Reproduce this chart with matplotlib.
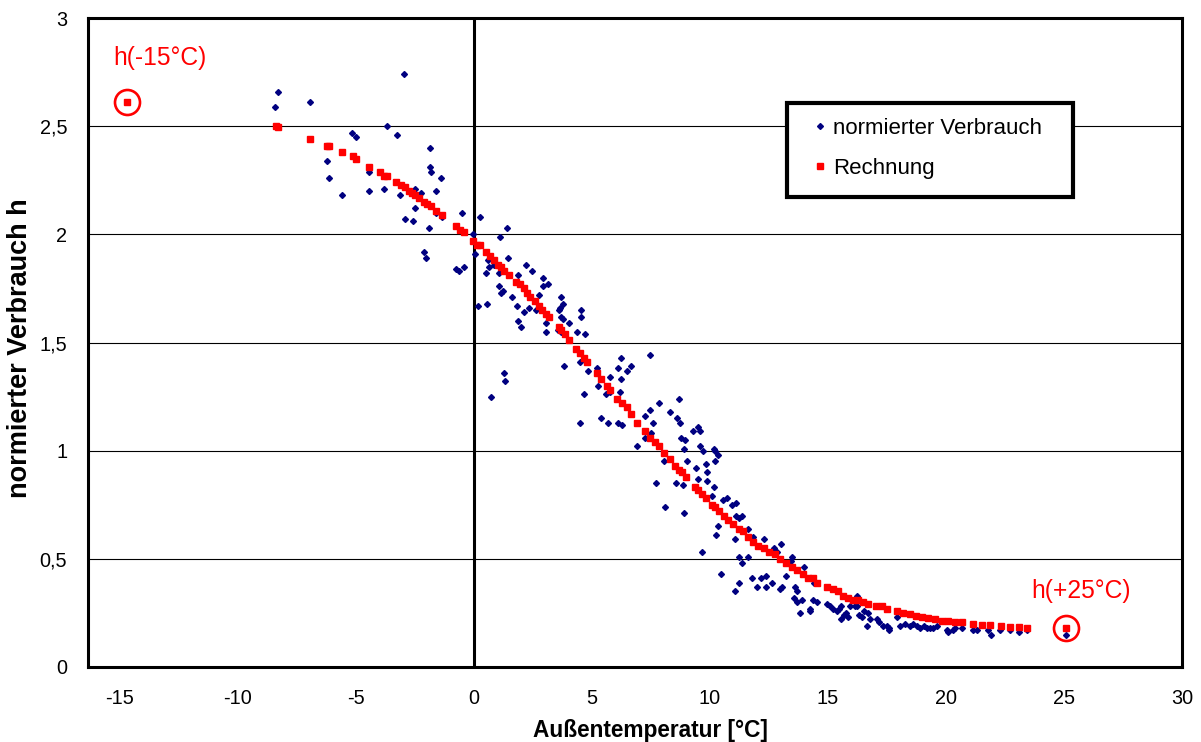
import matplotlib
matplotlib.use("Agg")
import matplotlib.pyplot as plt
from matplotlib.patches import Rectangle
from matplotlib.ticker import FuncFormatter

plt.rcParams['font.family'] = ['Liberation Sans', 'DejaVu Sans']

# Measured normalised consumption vs. outdoor temperature
verbrauch_t = [
    -8.29, -8.41, -6.96, -2.97, -3.70, -5.15, -5.01, -3.28, -6.23, -6.14,
    -5.58, -4.45, -4.44, -3.83, -1.85, -1.85, -1.80, -1.38, -1.60, -2.51,
    -2.26, -3.14, -2.49, -2.93, -2.57, -1.90, -1.59, -1.35, -0.49, 0.25,
    -0.03, 1.42, 1.12, -2.11, -2.02, -0.74, -0.63, -0.41, 0.06, 0.49,
    0.60, 0.64, 0.84, 1.07, 1.46, 1.05, 1.15, 1.25, 2.21, 2.46,
    1.87, 2.94, 3.15, 2.93, 1.63, 2.74, 3.67, 1.83, 2.35, 2.63,
    2.14, 3.76, 3.59, 3.66, 4.55, 4.55, 3.70, 3.76, 1.85, 2.00,
    3.07, 3.07, 3.55, 3.69, 4.03, 4.35, 4.72, 0.16, 0.56, 1.28,
    1.32, 0.73, 3.80, 4.51, 4.65, 4.82, 5.21, 5.26, 5.78, 6.23,
    6.09, 6.23, 6.47, 6.65, 7.48, 5.61, 5.75, 6.20, 4.48, 5.38,
    5.68, 6.10, 6.27, 7.82, 7.47, 7.23, 6.89, 7.23, 7.52, 8.32,
    8.67, 8.60, 8.74, 9.30, 9.50, 9.59, 8.77, 8.95, 8.88, 9.59,
    10.15, 7.58, 9.72, 10.22, 10.32, 10.22, 9.84, 9.01, 8.05, 9.42,
    9.50, 9.88, 9.89, 7.71, 8.56, 8.85, 10.17, 8.10, 8.92, 10.08,
    10.57, 10.72, 10.93, 11.11, 11.11, 11.21, 11.35, 10.32, 10.26, 11.60,
    11.07, 11.83, 12.28, 13.03, 12.72, 12.83, 13.47, 13.42, 9.67, 11.25,
    11.60, 11.35, 10.47, 11.22, 11.04, 11.80, 12.00, 12.18, 12.37, 12.38,
    12.63, 12.98, 13.07, 13.24, 13.59, 13.68, 13.97, 13.56, 13.68, 13.91,
    14.35, 14.55, 14.95, 15.09, 14.24, 15.48, 15.93, 16.24, 16.71, 14.41,
    13.82, 14.24, 15.23, 15.37, 15.54, 15.54, 15.68, 15.86, 15.76, 16.14,
    16.24, 16.33, 16.43, 16.53, 16.68, 16.64, 16.78, 17.06, 17.17, 17.32,
    17.51, 17.60, 17.57, 17.93, 18.05, 18.27, 18.47, 18.59, 18.76, 18.90,
    19.06, 19.18, 19.32, 19.46, 19.60, 20.03, 20.09, 20.28, 20.38, 20.66,
    21.15, 21.30, 21.79, 21.89, 22.28, 22.73, 23.10, 23.45, 25.07,
]
verbrauch_h = [
    2.66, 2.59, 2.61, 2.74, 2.50, 2.47, 2.45, 2.46, 2.34, 2.26,
    2.18, 2.29, 2.20, 2.21, 2.40, 2.31, 2.29, 2.26, 2.20, 2.21,
    2.19, 2.18, 2.12, 2.07, 2.06, 2.03, 2.10, 2.08, 2.10, 2.08,
    2.00, 2.03, 1.99, 1.92, 1.89, 1.84, 1.83, 1.85, 1.91, 1.82,
    1.88, 1.85, 1.86, 1.82, 1.89, 1.76, 1.73, 1.74, 1.86, 1.83,
    1.81, 1.80, 1.77, 1.76, 1.71, 1.72, 1.71, 1.67, 1.66, 1.65,
    1.64, 1.68, 1.65, 1.66, 1.65, 1.62, 1.62, 1.61, 1.60, 1.57,
    1.59, 1.55, 1.56, 1.55, 1.59, 1.55, 1.54, 1.67, 1.68, 1.36,
    1.32, 1.25, 1.39, 1.41, 1.26, 1.37, 1.38, 1.30, 1.34, 1.43,
    1.38, 1.33, 1.37, 1.39, 1.44, 1.26, 1.27, 1.27, 1.13, 1.15,
    1.13, 1.13, 1.12, 1.22, 1.19, 1.16, 1.02, 1.06, 1.08, 1.18,
    1.24, 1.15, 1.13, 1.09, 1.11, 1.09, 1.06, 1.05, 1.01, 1.02,
    1.01, 1.13, 1.00, 1.00, 0.98, 0.95, 0.94, 0.95, 0.95, 0.92,
    0.87, 0.90, 0.86, 0.85, 0.85, 0.84, 0.83, 0.74, 0.71, 0.79,
    0.77, 0.78, 0.75, 0.76, 0.70, 0.69, 0.70, 0.65, 0.61, 0.64,
    0.59, 0.60, 0.59, 0.57, 0.55, 0.53, 0.51, 0.49, 0.53, 0.51,
    0.51, 0.48, 0.43, 0.39, 0.35, 0.41, 0.37, 0.41, 0.42, 0.37,
    0.39, 0.36, 0.37, 0.42, 0.37, 0.35, 0.46, 0.32, 0.30, 0.31,
    0.31, 0.30, 0.29, 0.28, 0.27, 0.27, 0.28, 0.28, 0.29, 0.39,
    0.25, 0.26, 0.27, 0.26, 0.28, 0.22, 0.24, 0.23, 0.25, 0.28,
    0.33, 0.24, 0.23, 0.26, 0.25, 0.19, 0.22, 0.22, 0.21, 0.19,
    0.19, 0.18, 0.17, 0.23, 0.19, 0.20, 0.19, 0.20, 0.19, 0.18,
    0.19, 0.18, 0.18, 0.18, 0.19, 0.17, 0.16, 0.17, 0.18, 0.18,
    0.17, 0.17, 0.17, 0.15, 0.17, 0.17, 0.16, 0.17, 0.15,
]

# Calculated consumption (model curve)
rechnung_t = [
    -8.40, -8.30, -6.96, -6.21, -6.13, -5.58, -5.14, -5.01, -4.45, -3.96,
    -3.82, -3.70, -3.29, -3.11, -2.94, -2.74, -2.62, -2.48, -2.31, -2.12,
    -1.98, -1.81, -1.59, -1.35, -0.74, -0.60, -0.43, -0.06, 0.14, 0.25,
    0.50, 0.67, 0.84, 1.01, 1.16, 1.29, 1.47, 1.80, 1.97, 2.11,
    2.25, 2.39, 2.57, 2.74, 2.89, 3.07, 3.17, 3.59, 3.69, 3.84,
    4.03, 4.34, 4.51, 4.65, 4.79, 5.21, 5.40, 5.64, 5.78, 6.06,
    6.27, 6.48, 6.67, 6.91, 7.26, 7.48, 7.65, 7.82, 8.07, 8.32,
    8.53, 8.67, 8.81, 8.98, 9.37, 9.51, 9.66, 9.84, 10.08, 10.22,
    10.40, 10.60, 10.78, 10.99, 11.21, 11.42, 11.63, 11.84, 12.05, 12.29,
    12.48, 12.76, 12.97, 13.21, 13.47, 13.68, 13.93, 14.17, 14.35, 14.52,
    14.95, 15.23, 15.44, 15.65, 15.86, 16.07, 16.28, 16.50, 16.71, 17.03,
    17.27, 17.51, 17.91, 18.19, 18.47, 18.73, 18.97, 19.25, 19.53, 19.81,
    20.09, 20.38, 20.66, 21.13, 21.51, 21.86, 22.32, 22.73, 23.10, 23.45,
]
rechnung_h = [
    2.50, 2.495, 2.44, 2.41, 2.41, 2.38, 2.36, 2.35, 2.31, 2.29,
    2.27, 2.27, 2.24, 2.23, 2.22, 2.20, 2.19, 2.18, 2.17, 2.15,
    2.14, 2.13, 2.11, 2.09, 2.04, 2.02, 2.01, 1.97, 1.95, 1.95,
    1.92, 1.90, 1.88, 1.86, 1.85, 1.83, 1.81, 1.78, 1.77, 1.75,
    1.73, 1.71, 1.69, 1.67, 1.65, 1.63, 1.62, 1.57, 1.56, 1.54,
    1.51, 1.47, 1.45, 1.43, 1.41, 1.36, 1.33, 1.30, 1.28, 1.24,
    1.22, 1.20, 1.17, 1.13, 1.09, 1.06, 1.04, 1.02, 0.99, 0.96,
    0.93, 0.91, 0.90, 0.88, 0.83, 0.82, 0.80, 0.78, 0.75, 0.74,
    0.72, 0.70, 0.68, 0.66, 0.64, 0.63, 0.60, 0.58, 0.56, 0.55,
    0.53, 0.52, 0.50, 0.48, 0.46, 0.45, 0.43, 0.41, 0.41, 0.39,
    0.37, 0.36, 0.35, 0.33, 0.32, 0.31, 0.31, 0.30, 0.29, 0.28,
    0.28, 0.27, 0.26, 0.25, 0.245, 0.237, 0.230, 0.225, 0.220, 0.214,
    0.213, 0.208, 0.207, 0.199, 0.196, 0.193, 0.190, 0.186, 0.185, 0.182,
]

# Extrapolated values at the design temperatures
grenz_t = [-14.71, 25.07]
grenz_h = [2.61, 0.179]
grenz_labels = ["h(-15°C)", "h(+25°C)"]
grenz_offsets = [(24, 32), (11, 27)]

x_ticks = [-15, -10, -5, 0, 5, 10, 15, 20, 25, 30]
y_ticks = [0, 0.5, 1, 1.5, 2, 2.5, 3]

BLUE = '#000080'
RED = '#FF0000'

fig = plt.figure(figsize=(12.01, 7.42), dpi=100)
ax = fig.add_axes([0.0733, 0.1011, 0.9109, 0.8746])

ax.set_xlim(-16.35, 30)
ax.set_ylim(0, 3)
ax.set_xticks(x_ticks)
ax.set_yticks(y_ticks)
ax.yaxis.set_major_formatter(FuncFormatter(lambda v, p: f"{v:g}".replace('.', ',')))
ax.xaxis.set_major_formatter(FuncFormatter(lambda v, p: f"{v:g}"))
ax.tick_params(axis='both', length=0, labelsize=14.3)
ax.tick_params(axis='x', pad=15.5)
ax.tick_params(axis='y', pad=15)

ax.yaxis.grid(True, color='black', linewidth=0.8)
ax.set_axisbelow(True)
for s in ax.spines.values():
    s.set_linewidth(2.2)
    s.set_color('black')
ax.axvline(0, color='black', linewidth=2.2, zorder=1.5)

ax.plot(verbrauch_t, verbrauch_h, linestyle='none', marker='D', ms=3.0,
        color=BLUE, mec=BLUE, label='normierter Verbrauch', zorder=3)
ax.plot(rechnung_t, rechnung_h, linestyle='none', marker='s', ms=4.8,
        color=RED, mec=RED, label='Rechnung', zorder=4)
ax.plot(grenz_t, grenz_h, linestyle='none', marker='s', ms=4.8,
        color=RED, mec=RED, zorder=4)
ax.plot(grenz_t, grenz_h, linestyle='none', marker='o', ms=18, mfc='none',
        mec=RED, mew=1.9, zorder=4)
for t, h, lab, off in zip(grenz_t, grenz_h, grenz_labels, grenz_offsets):
    ax.annotate(lab, (t, h), xytext=off, textcoords='offset points',
                ha='center', va='center', color=RED, fontsize=17.7)

# Legend box with its own frame
ax.add_patch(Rectangle((0.639, 0.7242), 0.2614, 0.1448, transform=ax.transAxes,
                       facecolor='white', edgecolor='black', linewidth=3,
                       zorder=5))
leg = ax.legend(loc='upper left', bbox_to_anchor=(0.659, 0.8467),
                borderaxespad=0, fontsize=16, frameon=False,
                borderpad=0, handlelength=1.0, handletextpad=0.1,
                labelspacing=0.88, markerscale=1.0)
leg.set_zorder(6)

ax.set_xlabel('Außentemperatur [°C]', fontsize=16.3, fontweight='bold')
ax.xaxis.set_label_coords(0.514, -0.080)
ax.set_ylabel('normierter Verbrauch h', fontsize=19.5, fontweight='bold')
ax.yaxis.set_label_coords(-0.050, 0.4915)

fig.savefig('out.png', dpi=100, facecolor='white')
